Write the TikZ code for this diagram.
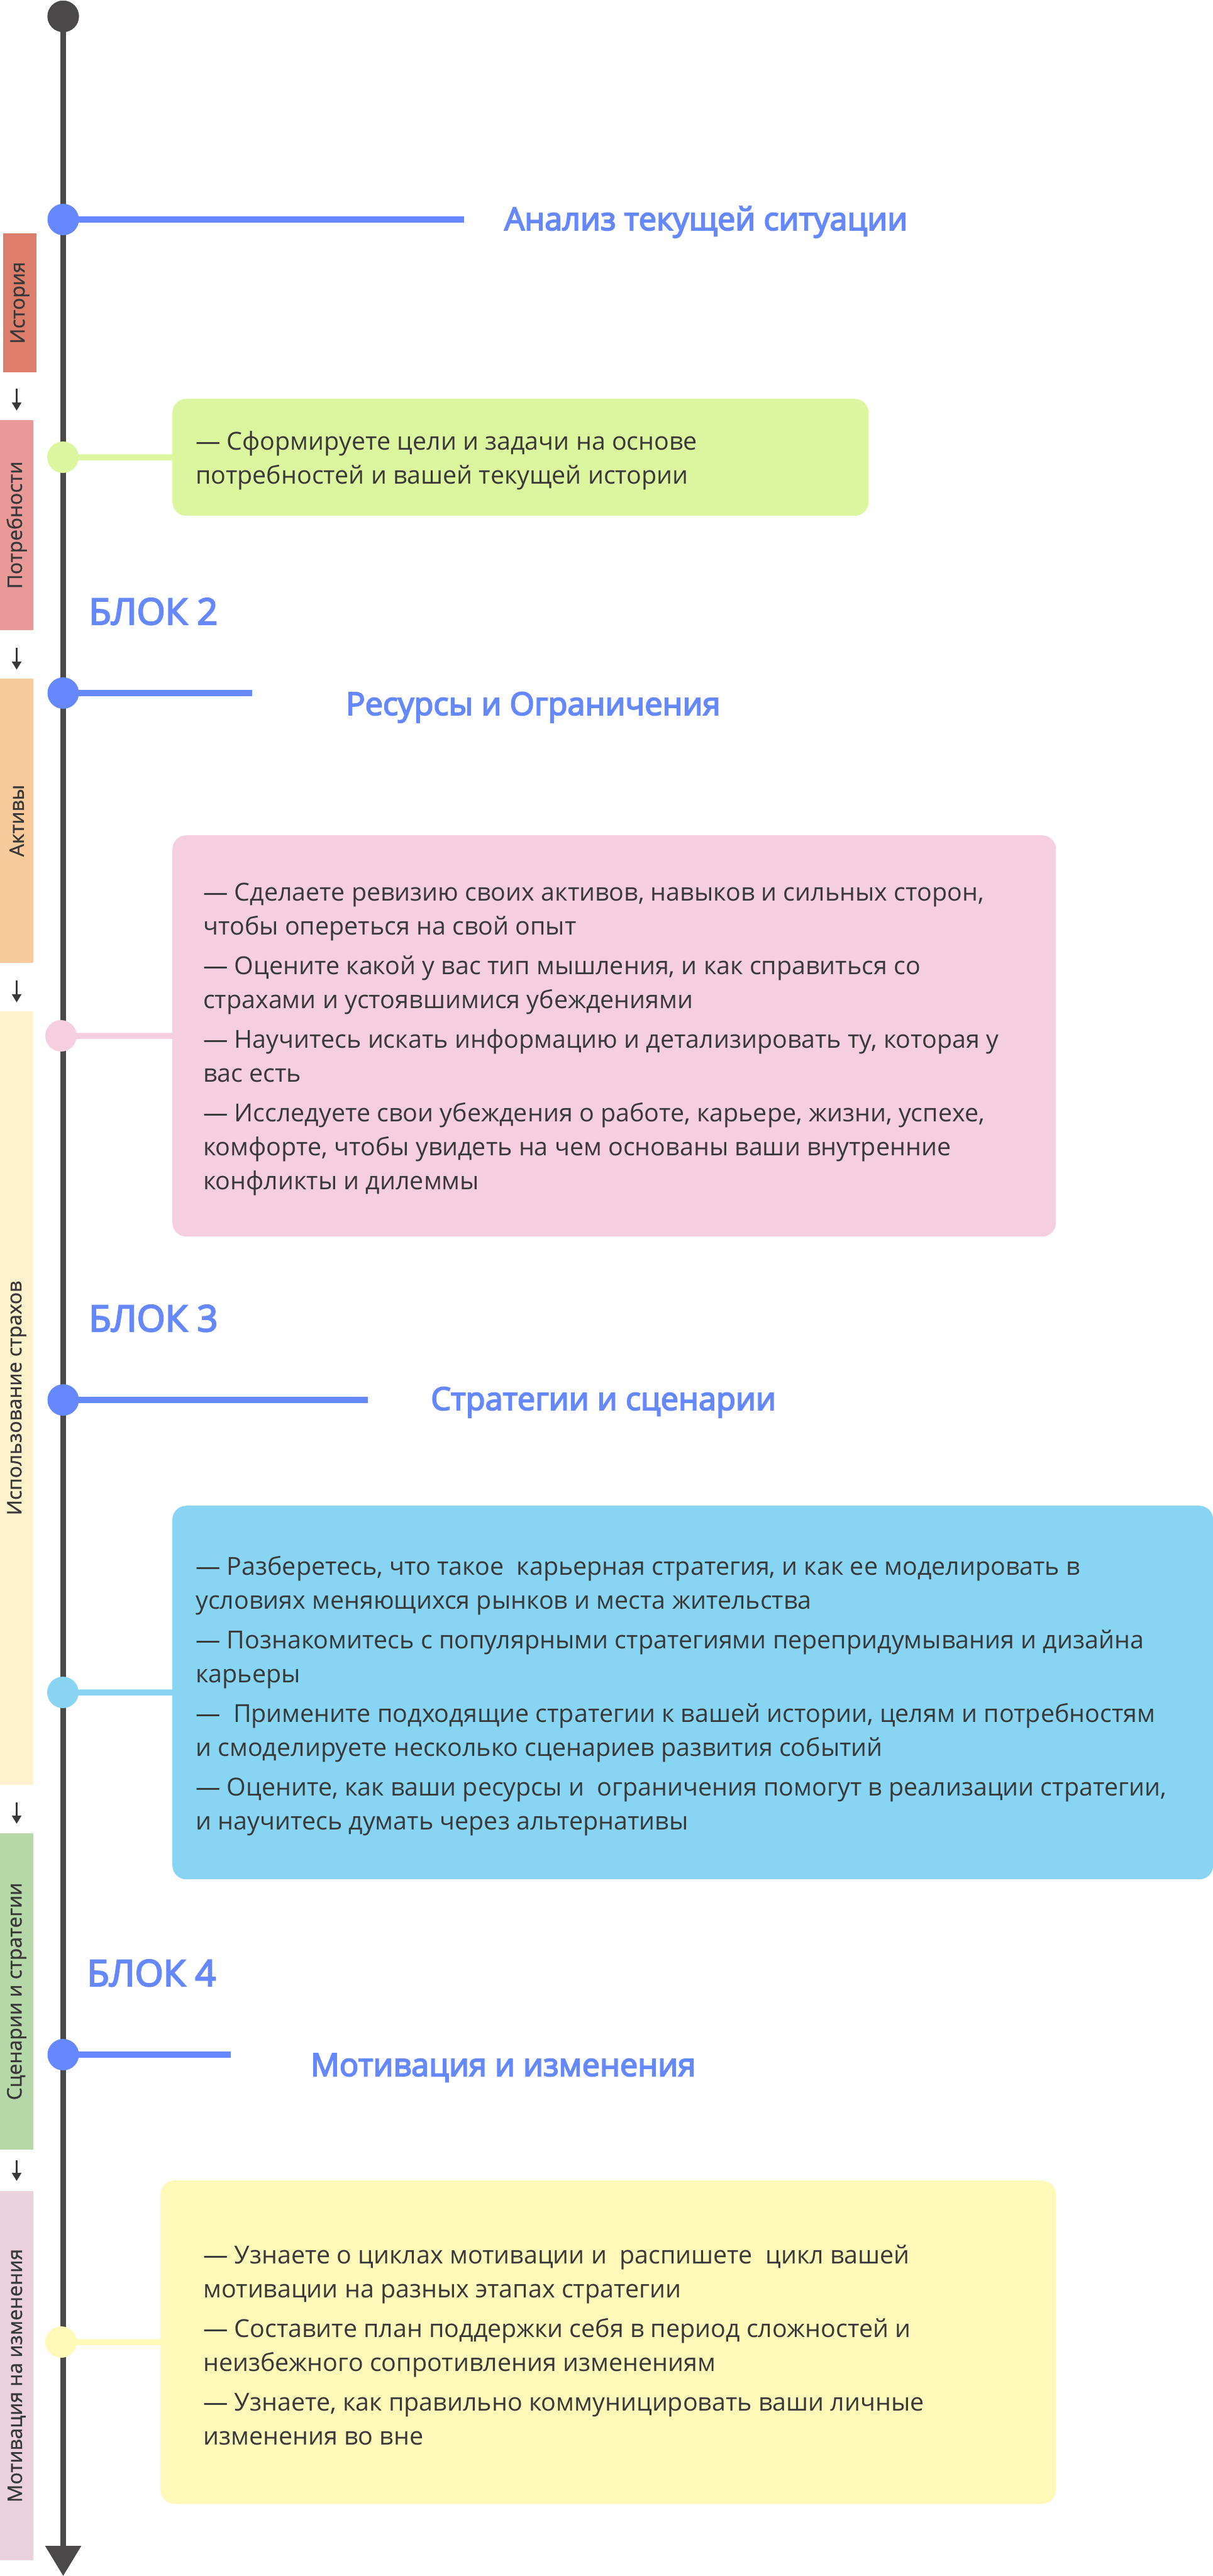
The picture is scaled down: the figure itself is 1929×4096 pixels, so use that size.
\documentclass[tikz,border=0pt]{standalone}
\usepackage{fontspec}
\setmainfont{Open Sans}
\newfontfamily\semifam{Open Sans}[FakeBold=3.8]
\newfontfamily\tabfam{Open Sans}[FakeBold=1]
\usetikzlibrary{arrows.meta}
\definecolor{tl}{HTML}{4A4849}
\definecolor{bl}{HTML}{6688FF}
\definecolor{txt}{HTML}{383838}
\definecolor{tabA}{HTML}{DD7E6B}
\definecolor{tabB}{HTML}{EA9999}
\definecolor{tabC}{HTML}{F9CB9C}
\definecolor{tabD}{HTML}{FFF2CC}
\definecolor{tabE}{HTML}{B6D7A8}
\definecolor{tabF}{HTML}{EAD1DC}
\definecolor{gbox}{HTML}{DCF59F}
\definecolor{pbox}{HTML}{F5CFDF}
\definecolor{bbox}{HTML}{87D5F3}
\definecolor{ybox}{HTML}{FFF9B9}
\newcommand\mybody{\fontsize{39.4}{54}\selectfont}
\newcommand\myhdr{\semifam\fontsize{50.5}{58}\selectfont}
\newcommand\myblok{\semifam\fontsize{58}{64}\selectfont}
\newcommand\mytab{\tabfam\fontsize{31.8}{34}\selectfont}
\begin{document}
\begin{tikzpicture}[x=1pt,y=-1pt,
  timeline/.style={line width=9.5pt, draw=tl},
  hline/.style={line width=9.5pt, draw=bl},
  dot/.style={circle, inner sep=0pt, minimum size=50pt},
  conn/.style={line width=9.5pt},
  tabnode/.style={rotate=90, inner sep=0pt, minimum height=53pt, font=\mytab, text=txt},
  tabarrow/.style={draw=txt, line width=2.5pt, -{Triangle[width=15pt,length=13pt]}},
  cbox/.style={rounded corners=22pt, inner sep=0pt, anchor=north west},
  btext/.style={anchor=west, align=left, inner sep=0pt, font=\mybody, text=txt},
  htext/.style={anchor=base west, inner sep=0pt, font=\myhdr, text=bl},
  blok/.style={anchor=base west, inner sep=0pt, font=\myblok, text=bl}
]
\useasboundingbox (0,0) rectangle (1929,4096);
\fill[white] (0,0) rectangle (1929,4096);

% side tabs
\node[tabnode, fill=tabA, minimum width=221pt] (t1) at (31.5,481.5) {История};
\node[tabnode, fill=tabB, minimum width=334pt] (t2) at (26.5,835) {Потребности};
\node[tabnode, fill=tabC, minimum width=452pt] (t3) at (26.5,1305) {Активы};
\node[tabnode, fill=tabD, minimum width=1230pt] (t4) at (26.5,2223) {Использование страхов};
\node[tabnode, fill=tabE, minimum width=503pt] (t5) at (26.5,3166.5) {Сценарии и стратегии};
\node[tabnode, fill=tabF, minimum width=587pt] (t6) at (26.5,3777.5) {Мотивация на изменения};
\draw[tabarrow, shorten <=26pt, shorten >=15pt] (t1.west -| t2.east) -- (t2.east);
\draw[tabarrow, shorten <=28pt, shorten >=14pt] (t2.west) -- (t3.east);
\draw[tabarrow, shorten <=28pt, shorten >=14pt] (t3.west) -- (t4.east);
\draw[tabarrow, shorten <=28pt, shorten >=15pt] (t4.west) -- (t5.east);
\draw[tabarrow, shorten <=17pt, shorten >=16pt] (t5.west) -- (t6.east);

% content boxes
\node[cbox, fill=gbox, minimum width=1107pt, minimum height=186pt] (gb) at (274,634) {};
\node[cbox, fill=pbox, minimum width=1405pt, minimum height=638pt] (pb) at (274,1328) {};
\node[cbox, fill=bbox, minimum width=1655pt, minimum height=594pt] (bb) at (274,2394) {};
\node[cbox, fill=ybox, minimum width=1424pt, minimum height=514pt] (yb) at (255,3467) {};

% timeline
\node[dot, fill=tl] (top) at (100.5,26) {};
\coordinate (tlend) at (100.5,4096);
\draw[timeline, -{Triangle[width=55pt,length=48pt]}] (top.center) -- (tlend);
\node[dot, fill=tl] at (top) {};

% block connectors
\node[dot] (gd) at (100,727) {};
\node[dot] (pd) at (97,1647) {};
\node[dot] (bd) at (100,2691) {};
\node[dot] (yd) at (97,3724) {};
\draw[conn, draw=gbox] (gd.center) -- (gb.west);
\draw[conn, draw=pbox] (pd.center) -- (pb.west);
\draw[conn, draw=bbox] (bd.center) -- (bb.west);
\draw[conn, draw=ybox] (yd.center) -- (yb.west);
\fill[gbox] (gd) circle (25pt);
\fill[pbox] (pd) circle (25pt);
\fill[bbox] (bd) circle (25pt);
\fill[ybox] (yd) circle (25pt);

% headings
\node[dot] (h1) at (100.5,349) {};
\node[dot] (h2) at (100.5,1102) {};
\node[dot] (h3) at (100.5,2226) {};
\node[dot] (h4) at (100.5,3267) {};
\coordinate (h1e) at (738,349);
\coordinate (h2e) at (401,1102);
\coordinate (h3e) at (585,2226);
\coordinate (h4e) at (367,3267);
\draw[hline] (h1.center) -- (h1e);
\draw[hline] (h2.center) -- (h2e);
\draw[hline] (h3.center) -- (h3e);
\draw[hline] (h4.center) -- (h4e);
\fill[bl] (h1) circle (25pt);
\fill[bl] (h2) circle (25pt);
\fill[bl] (h3) circle (25pt);
\fill[bl] (h4) circle (25pt);

\node[htext] (h1t) at (802,366) {Анализ текущей ситуации};
\node[htext] (h2t) at (550,1137) {Ресурсы и Ограничения};
\node[htext] (h3t) at (685,2242) {Стратегии и сценарии};
\node[htext] (h4t) at (494,3301) {Мотивация и изменения};

\node[blok] (b2) at (141,993) {БЛОК 2};
\node[blok] (b3) at (141,2117) {БЛОК 3};
\node[blok] (b4) at (138,3158) {БЛОК 4};

% box texts
\node[btext] (gt) at ([xshift=37pt,yshift=-5pt]gb.west) {— Сформируете цели и задачи на основе\\потребностей и вашей текущей истории};
\node[btext] (pt) at ([xshift=49pt,yshift=-5pt]pb.west) {— Сделаете ревизию своих активов, навыков и сильных сторон,\\чтобы опереться на свой опыт\\[9pt]— Оцените какой у вас тип мышления, и как справиться со\\страхами и устоявшимися убеждениями\\[9pt]— Научитесь искать информацию и детализировать ту, которая у\\вас есть\\[9pt]— Исследуете свои убеждения о работе, карьере, жизни, успехе,\\комфорте, чтобы увидеть на чем основаны ваши внутренние\\конфликты и дилеммы};
\node[btext] (bt) at ([xshift=37pt,yshift=-5pt]bb.west) {— Разберетесь, что такое\ \ карьерная стратегия, и как ее моделировать в\\условиях меняющихся рынков и места жительства\\[9pt]— Познакомитесь с популярными стратегиями перепридумывания и дизайна\\карьеры\\[9pt]—\ \ Примените подходящие стратегии к вашей истории, целям и потребностям\\и смоделируете несколько сценариев развития событий\\[9pt]— Оцените, как ваши ресурсы и\ \ ограничения помогут в реализации стратегии,\\и научитесь думать через альтернативы};
\node[btext] (yt) at ([xshift=68pt,yshift=-5pt]yb.west) {— Узнаете о циклах мотивации и\ \ распишете\ \ цикл вашей\\мотивации на разных этапах стратегии\\[9pt]— Составите план поддержки себя в период сложностей и\\неизбежного сопротивления изменениям\\[9pt]— Узнаете, как правильно коммуницировать ваши личные\\изменения во вне};
\end{tikzpicture}
\end{document}
